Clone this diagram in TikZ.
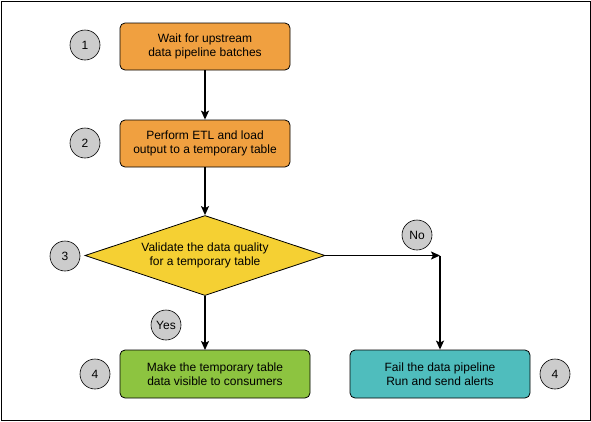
\documentclass[tikz,border=0pt]{standalone}
\usepackage{fontspec}
\setmainfont{Liberation Sans}
\usetikzlibrary{shapes.geometric,arrows.meta}
\definecolor{orangefill}{HTML}{F0A040}
\definecolor{yellowfill}{HTML}{F5D033}
\definecolor{greenfill}{HTML}{8DC440}
\definecolor{tealfill}{HTML}{4FBDBD}
\definecolor{circfill}{HTML}{CCCCCC}
\tikzset{
  stepbox/.style={draw=black, line width=0.8pt, rounded corners=5pt, minimum height=47pt, align=center, font=\fontsize{12}{14.5}\selectfont, inner sep=0pt},
  decision/.style={draw=black, line width=0.8pt, diamond, aspect=3, minimum width=240pt, minimum height=80pt, inner sep=0pt, fill=yellowfill, align=center, font=\fontsize{12}{14.5}\selectfont},
  badge/.style={draw=black, line width=0.6pt, circle, fill=circfill, minimum size=30pt, inner sep=0pt, font=\fontsize{12}{14}\selectfont},
  flow/.style={draw=black, line width=1.5pt, -{Stealth[length=9pt,width=8pt,inset=2pt]}},
}
\begin{document}
\begin{tikzpicture}[x=1pt,y=-1pt]
\useasboundingbox (0,0) rectangle (591,421);
\draw[line width=0.8pt] (1,1) rectangle (590,420);
\node[stepbox, fill=orangefill, minimum width=170pt] (s1) at (205,46.5) {Wait for upstream\\data pipeline batches};
\node[stepbox, fill=orangefill, minimum width=170pt] (s2) at (205,143.5) {Perform ETL and load\\output to a temporary table};
\node[decision] (d) at (205,255.5) {Validate the data quality\\for a temporary table};
\node[stepbox, fill=greenfill, minimum width=190pt, minimum height=48pt] (s4a) at (215,374) {Make the temporary table\\data visible to consumers};
\node[stepbox, fill=tealfill, minimum width=180pt, minimum height=48pt] (s4b) at (440,374) {Fail the data pipeline\\Run and send alerts};
\node[badge] (c1) at (85,45) {1};
\node[badge] (c2) at (85,143) {2};
\node[badge] (c3) at (65,256) {3};
\node[badge] (c4a) at (95,374) {4};
\node[badge] (c4b) at (555,374) {4};
\node[badge] (cyes) at (166,325) {Yes};
\node[badge] (cno) at (417,235) {No};
\coordinate (turn) at (440,255.5);
\coordinate (yesin) at (205,350);
\draw[flow] (s1) -- (s2);
\draw[flow] (s2) -- (d.north);
\draw[flow] (d.south) -- (yesin);
\draw[flow, line width=1.2pt] (d.east) -- (turn);
\draw[flow] (turn) -- (s4b.north);
\end{tikzpicture}
\end{document}
